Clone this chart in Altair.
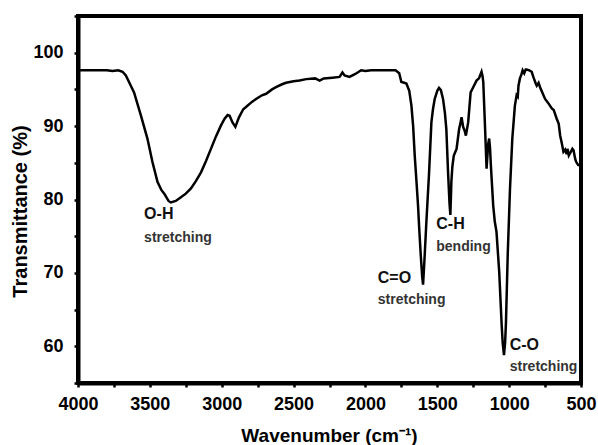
import altair as alt
import pandas as pd

wavenumber = [4000, 3900, 3800, 3760, 3720, 3690, 3667, 3640, 3610, 3563, 3517, 3482, 3447, 3420, 3400,
              3370, 3354, 3320, 3284, 3250, 3214, 3180, 3144, 3110, 3075, 3040, 3005, 2980, 2959, 2945,
              2925, 2905, 2880, 2850, 2831, 2790, 2761, 2720, 2691, 2650, 2622, 2580, 2552, 2500, 2459,
              2412, 2350, 2319, 2290, 2230, 2180, 2160, 2145, 2111, 2070, 2030, 2000, 1960, 1900, 1831,
              1790, 1765, 1750, 1730, 1715, 1695, 1680, 1668, 1657, 1645, 1634, 1625, 1615, 1605, 1599,
              1590, 1576, 1557, 1541, 1530, 1518, 1500, 1488, 1475, 1460, 1447, 1437, 1425, 1415, 1409,
              1402, 1395, 1385, 1366, 1348, 1340, 1331, 1320, 1310, 1301, 1285, 1268, 1250, 1227, 1210,
              1200, 1192, 1185, 1180, 1169, 1157, 1146, 1139, 1133, 1127, 1111, 1100, 1088, 1069, 1053,
              1045, 1036, 1028, 1022, 1010, 994, 978, 960, 948, 940, 935, 925, 915, 906, 895,
              885, 878, 860, 843, 830, 815, 808, 795, 785, 770, 750, 730, 703, 690, 669,
              655, 645, 635, 622, 610, 600, 594, 585, 571, 560, 552, 540, 533, 520, 500]
transmittance = [97.6, 97.6, 97.6, 97.5, 97.6, 97.4, 96.9, 95.8, 94.6, 91.5, 88.3, 85.1, 82.4, 81.3, 80.8,
                 79.8, 79.6, 79.8, 80.3, 80.8, 81.5, 82.5, 83.7, 85.2, 86.9, 88.6, 90.1, 91.0, 91.5, 91.4,
                 90.5, 89.9, 91.2, 92.3, 92.6, 93.3, 93.7, 94.2, 94.4, 95.0, 95.3, 95.7, 95.9, 96.1, 96.2,
                 96.4, 96.5, 96.2, 96.5, 96.6, 96.7, 97.3, 96.9, 96.7, 97.1, 97.6, 97.5, 97.6, 97.6, 97.6,
                 97.6, 97.2, 96.0, 95.9, 95.8, 94.8, 92.8, 90.0, 86.0, 82.5, 79.2, 75.8, 72.4, 69.5, 68.4,
                 71.5, 76.9, 83.7, 90.5, 92.3, 93.7, 94.8, 95.2, 94.9, 93.7, 91.8, 89.6, 83.7, 79.5, 77.9,
                 82.4, 84.5, 86.0, 86.9, 89.6, 90.3, 91.2, 89.9, 89.4, 88.7, 90.5, 94.6, 95.3, 96.2, 96.5,
                 97.0, 97.4, 96.8, 96.0, 90.5, 84.2, 87.5, 88.3, 87.0, 84.6, 79.2, 77.0, 75.6, 70.1, 63.3,
                 60.5, 58.8, 60.5, 63.3, 72.4, 81.5, 88.3, 92.8, 94.2, 94.0, 95.5, 96.5, 97.0, 97.6, 97.2,
                 97.7, 97.7, 97.6, 97.4, 96.6, 95.8, 95.5, 95.9, 95.3, 94.6, 93.7, 93.2, 92.4, 92.2, 91.0,
                 90.3, 88.7, 87.8, 86.5, 86.8, 86.2, 86.9, 86.0, 86.5, 86.9, 86.7, 85.5, 85.1, 84.7, 84.6]

group_names = ["O-H", "C=O", "C-H", "C-O"]
group_modes = ["stretching", "stretching", "bending", "stretching"]
label_wn = [3540, 1914, 1507, 996]
name_t = [78.0, 69.3, 76.6, 60.2]
mode_t = [74.8, 66.3, 73.5, 57.2]

x_ticks = list(range(500, 4001, 250))
y_ticks = list(range(55, 106, 5))

FONT = "Liberation Sans"

spec = pd.DataFrame({"wn": wavenumber, "t": transmittance})
names = pd.DataFrame({"wn": label_wn, "t": name_t, "txt": group_names})
modes = pd.DataFrame({"wn": label_wn, "t": mode_t, "txt": group_modes})

xscale = alt.Scale(domain=[500, 4000], reverse=True, nice=False, zero=False)
yscale = alt.Scale(domain=[55, 105], nice=False, zero=False)

xaxis = alt.Axis(
    values=x_ticks, format="d",
    labelExpr="datum.value % 500 ? '' : datum.label",
    title="Wavenumber (cm⁻¹)", grid=False,
    domainColor="black", domainWidth=4, tickColor="black", tickWidth=2.5, tickSize=4,
    labelFont=FONT, labelFontSize=18, labelFontWeight="bold", labelColor="black", labelPadding=8,
    labelFlush=False, labelOverlap=False,
    titleFont=FONT, titleFontSize=19, titleFontWeight="bold", titleColor="black",
    titleX=251, titleY=52, titleBaseline="middle", titleAlign="center",
)
yaxis = alt.Axis(
    values=y_ticks, format="d",
    labelExpr="datum.value % 10 ? '' : datum.label",
    title="Transmittance (%)", grid=False,
    domainColor="black", domainWidth=4, tickColor="black", tickWidth=2.5, tickSize=4,
    labelFont=FONT, labelFontSize=18, labelFontWeight="bold", labelColor="black", labelPadding=11,
    labelFlush=False, labelOverlap=False,
    titleFont=FONT, titleFontSize=20, titleFontWeight="bold", titleColor="black",
    titleX=-58, titleY=195, titleBaseline="middle", titleAlign="center", titleAngle=270,
)

X = alt.X("wn:Q", scale=xscale, axis=xaxis)
Y = alt.Y("t:Q", scale=yscale, axis=yaxis)

line = alt.Chart(spec).mark_line(color="black", strokeWidth=2.5).encode(
    x=X, y=Y, order=alt.Order("wn:Q", sort="descending"),
)

name_layer = alt.Chart(names).mark_text(
    font=FONT, fontSize=16, fontWeight="bold", color="#111111", align="left", baseline="middle"
).encode(x=X, y=Y, text="txt:N")

mode_layer = alt.Chart(modes).mark_text(
    font=FONT, fontSize=14, fontWeight="bold", color="#333333", align="left", baseline="middle"
).encode(x=X, y=Y, text="txt:N")

chart = alt.layer(line, name_layer, mode_layer).properties(
    width=503, height=367,
    padding={"left": 78, "top": 16, "right": 17, "bottom": 62},
    autosize=alt.AutoSizeParams(type="none"),
    background="white",
).configure_view(stroke="black", strokeWidth=4)

chart.save("out.html", embed_options={"renderer": "svg", "actions": False})
